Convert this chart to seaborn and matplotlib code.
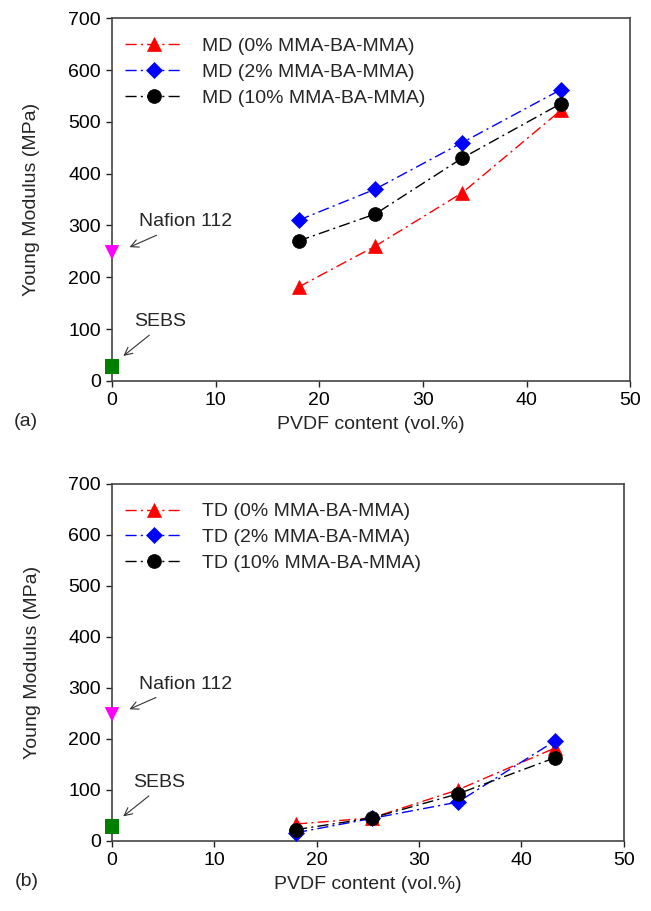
import matplotlib
matplotlib.use("Agg")
import matplotlib.pyplot as plt
import seaborn as sns
import pandas as pd

# PVDF content of the blend membranes (vol.%)
pvdf = [18.0, 25.4, 33.8, 43.3]

# Young modulus along the machine direction (MPa)
md_0 = [181, 260, 363, 522]
md_2 = [310, 370, 460, 562]
md_10 = [270, 322, 430, 535]

# Young modulus along the transverse direction (MPa)
td_0 = [33, 45, 100, 182]
td_2 = [16, 44, 76, 196]
td_10 = [22, 45, 92, 163]

# Reference membranes
ref_names = ["Nafion 112", "SEBS"]
ref_x = [0, 0]
ref_modulus = [248, 28]

md_labels = ["MD (0% MMA-BA-MMA)", "MD (2% MMA-BA-MMA)", "MD (10% MMA-BA-MMA)"]
td_labels = ["TD (0% MMA-BA-MMA)", "TD (2% MMA-BA-MMA)", "TD (10% MMA-BA-MMA)"]

sns.set_style("ticks")
plt.rcParams["font.family"] = ["Liberation Sans", "DejaVu Sans"]
plt.rcParams["font.size"] = 14

fig = plt.figure(figsize=(6.51, 9.11), dpi=100)
ax_a = fig.add_axes([0.172, 0.582, 0.796, 0.398])
ax_b = fig.add_axes([0.172, 0.077, 0.786, 0.392])

styles = [
    dict(color="#ff0000", marker="^", markersize=10),
    dict(color="#0000ff", marker="D", markersize=8),
    dict(color="#000000", marker="o", markersize=10),
]


def draw_panel(ax, series, labels, tag):
    for vals, lab, st in zip(series, labels, styles):
        df = pd.DataFrame({"x": pvdf, "y": vals})
        sns.lineplot(data=df, x="x", y="y", ax=ax, label=lab,
                     color=st["color"], marker=st["marker"],
                     markersize=st["markersize"], markeredgewidth=0.5,
                     markeredgecolor=st["color"], linestyle=(0, (8, 3, 1.5, 3)),
                     linewidth=1.0, zorder=3)

    ref = pd.DataFrame({"x": ref_x, "y": ref_modulus, "name": ref_names})
    sns.scatterplot(data=ref, x="x", y="y", hue="name", style="name",
                    palette={"Nafion 112": "#ff00ff", "SEBS": "#008000"},
                    markers={"Nafion 112": "v", "SEBS": "s"},
                    s=110, edgecolor="none", ax=ax, clip_on=False,
                    zorder=5, legend=False)

    arrow = dict(arrowstyle="->", color="#333333", lw=0.8,
                 shrinkA=0, shrinkB=0)
    ax.annotate("Nafion 112", xy=(1.7, 258), xytext=(2.6, 307),
                fontsize=14, va="center", ha="left")
    ax.annotate("", xy=(1.7, 258), xytext=(4.3, 281), arrowprops=arrow)
    ax.annotate("SEBS", xy=(1.0, 48), xytext=(2.1, 114),
                fontsize=14, va="center", ha="left")
    ax.annotate("", xy=(1.1, 48), xytext=(3.6, 88), arrowprops=arrow)

    ax.set_xlim(0, 50)
    ax.set_ylim(0, 700)
    ax.set_xticks(range(0, 51, 10))
    ax.set_yticks(range(0, 701, 100))
    ax.set_xlabel("PVDF content (vol.%)", fontsize=14, labelpad=5)
    ax.set_ylabel("Young Modulus (MPa)", fontsize=14)
    ax.yaxis.set_label_coords(-0.138, 0.5)
    ax.tick_params(direction="out", length=4, width=1.0, labelsize=14,
                   colors="#222222", labelcolor="black", pad=4)
    for sp in ax.spines.values():
        sp.set_visible(True)
        sp.set_linewidth(1.2)
        sp.set_color("#444444")

    ax.legend(loc="upper left", bbox_to_anchor=(0.0, 0.982),
              frameon=False, handlelength=3.0, handletextpad=1.0,
              labelspacing=0.42, borderaxespad=0.25, fontsize=14,
              numpoints=1)
    ax.text(-0.19, -0.09, tag, transform=ax.transAxes, fontsize=14,
            ha="left", va="top")


draw_panel(ax_a, [md_0, md_2, md_10], md_labels, "(a)")
draw_panel(ax_b, [td_0, td_2, td_10], td_labels, "(b)")

fig.savefig("out.png", dpi=100)
